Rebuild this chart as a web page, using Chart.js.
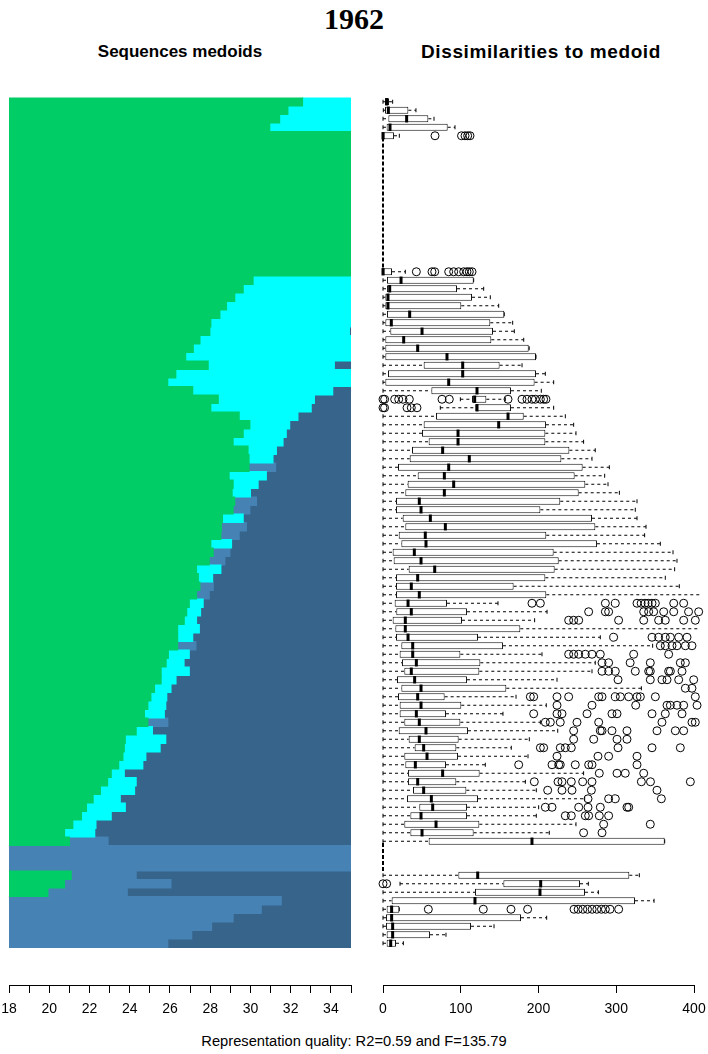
<!DOCTYPE html>
<html>
<head>
<meta charset="utf-8">
<script src="https://cdn.jsdelivr.net/npm/chart.js@4.4.1/dist/chart.umd.min.js"></script>
<style>
  body { margin: 0; background: #fff; width: 708px; height: 1054px; position: relative; overflow: hidden;
         font-family: 'Liberation Sans', Arial, sans-serif; color: #000; }
  .txt { position: absolute; white-space: nowrap; transform: translateX(-50%); line-height: 1; }
  #title { left: 354px; top: 4px; font-family: 'Liberation Serif', serif; font-weight: bold; font-size: 30px; }
  #hLeft { left: 180px; top: 43px; font-weight: bold; font-size: 17px; }
  #hRight { left: 541px; top: 42px; font-weight: bold; font-size: 19px; letter-spacing: 0.6px; }
  #caption { left: 354px; top: 1034px; font-size: 14.7px; }
  .box { position: absolute; top: 0; height: 1030px; }
</style>
</head>
<body>
<div id="title" class="txt">1962</div>
<div id="hLeft" class="txt">Sequences medoids</div>
<div id="hRight" class="txt">Dissimilarities to medoid</div>
<div class="box" style="left:0;width:360px"><canvas id="seq_chart"></canvas></div>
<div class="box" style="left:360px;width:348px"><canvas id="diss_chart"></canvas></div>
<div id="caption" class="txt">Representation quality: R2=0.59 and F=135.79</div>

<script>
// one entry per medoid, top to bottom (84 medoids, 100 rows)
// weight = number of rows the medoid takes
var weights = [
  1,1,1,1,1,15,1,1,1,1,
  1,1,1,1,1,1,1,1,1,1,
  1,1,1,1,1,1,1,1,1,1,
  1,1,1,1,1,1,1,1,1,1,
  1,1,1,1,1,1,1,1,1,1,
  1,1,1,1,1,1,1,1,1,1,
  1,1,1,1,1,1,1,1,1,1,
  1,1,1,1,3,1,1,1,1,1,
  1,1,1,1];

// age where each state ends (always green -> cyan -> steel blue -> dark blue)
var greenEnd = [
  32.59,31.86,31.45,30.96,35,35,35,30.13,29.64,29.22,
  28.81,28.48,28.03,27.98,27.49,27.16,26.78,27.90,26.29,25.89,
  27.13,28.40,28.03,29.44,29.97,29.64,29.14,29.88,29.93,29.93,
  28.94,29.14,29.09,29.22,29.14,28.61,28.56,28.53,28.03,28.15,
  27.95,27.32,27.41,27.49,27.32,26.96,26.83,26.71,26.38,26.38,
  26.38,25.92,25.81,25.56,25.56,25.23,25.05,24.90,24.73,24.90,
  24.32,23.78,23.73,23.66,23.45,23.08,22.90,22.54,22.18,21.85,
  21.60,21.17,20.76,21.00,18,21.09,20.76,19.93,18,18,
  18,18,18,18];
var cyanEnd = [
  35,35,35,35,35,35,35,35,35,35,
  35,35,35,34.92,35,35,35,34.17,35,35,
  34.09,33.18,33.02,32.36,31.95,31.78,31.62,31.29,31.12,29.93,
  30.79,30.38,30.00,29.22,29.14,29.64,28.56,28.53,29.06,28.15,
  27.95,28.53,28.12,27.49,27.32,27.65,27.52,27.32,27.46,27.13,
  26.38,26.96,26.70,26.96,26.30,26.05,25.84,25.79,25.72,24.90,
  25.13,25.79,25.51,24.80,24.65,23.73,24.32,24.24,23.53,23.78,
  23.08,22.32,22.26,21.00,18,21.09,20.76,19.93,18,18,
  18,18,18,18];
var steelEnd = [
  35,35,35,35,35,35,35,35,35,35,
  35,35,35,34.92,35,35,35,34.17,35,35,
  34.09,33.18,33.02,32.36,31.95,31.78,31.62,31.29,31.12,31.25,
  30.79,30.38,30.00,30.30,29.97,29.64,29.80,29.44,29.06,28.98,
  28.73,28.53,28.12,28.15,27.95,27.65,27.52,27.32,27.46,27.13,
  27.29,26.96,26.70,26.96,26.30,26.05,25.84,25.79,25.72,25.89,
  25.13,25.79,25.51,24.80,24.65,23.73,24.32,24.24,23.53,23.78,
  23.08,22.32,22.26,22.92,35,24.32,26.05,23.88,31.53,30.54,
  29.14,28.07,27.08,25.89];

// boxplot stats of the dissimilarities to each medoid
var whiskLo = [
  0,0.4,0,0,0,0,0,0,0,0,
  0,0,0,0,0,0,0,0,0,0,
  0,99.5,73.7,0,0,0,0,0,0,0,
  0,0,0,0,0,0,0,0,0,0,
  0,0,0,0,0,0,0,0,0,0,
  0,0,0,0,0,0,0,0,0,0,
  0,0,0,0,0,0,0,0,0,0,
  0,0,0,0,0,0,21.9,0,0,0,
  0,0,0,0];
var q1 = [
  2.6,2.6,6.9,4.7,0,0,0,5.1,5.1,3,
  3,5.1,3,9.4,3,3,3,52.3,6.4,3,
  62.2,114.5,118.8,68.2,52.3,50.2,58.7,37.3,34.3,19.3,
  44.6,31.7,28.7,16.7,16.7,25.3,28.7,20.2,23.6,12.4,
  13.7,33,16.7,16.7,16.7,15,17.1,12.4,15.9,16.7,
  23.6,21.4,24.4,27.4,18,23.6,19.3,21.4,21.4,27.4,
  20.2,33,40.7,27.4,28.7,32.2,32.2,38.6,30.9,46.7,
  35.2,27.4,35.2,58.7,0,96.9,154.8,118.3,11.1,4.7,
  3.9,3.9,4.7,4.7];
var median = [
  4.7,6.9,30.4,9,0,0,0,23.2,8.6,6.4,
  6.4,34.3,10.7,50.2,26.6,44.6,82.3,102.5,102.5,84.5,
  120.9,117.9,120.9,160.8,148.8,96.5,96.5,76.7,111,84.5,
  78.9,90.9,78.9,46.7,48.9,60.9,80.2,54.4,55.3,40.3,
  48.9,66.5,44.6,36.4,46.7,32.2,36.4,28.7,28.7,32.2,
  38.2,38.2,42.9,36.4,40.7,48.9,44.6,48.9,42.9,46.7,
  55.3,46.7,52.3,56.6,41.6,76.7,44.6,52.3,62.2,63.9,
  48.9,68.2,50.2,191.6,0,121.8,202.8,201.9,118.3,11.1,
  11.1,12.4,12.4,9.9];
var q3 = [
  7.7,32.6,58.3,83.2,14.1,0,11.6,116.6,95.2,114.5,
  100.7,156,138,141.5,139.3,187.4,196.8,150,196.8,195,
  164.6,132.9,164.6,181,209.6,208.8,208.8,239.7,229.4,256.8,
  246.5,260.2,251.7,228,202.4,268.8,273.1,210,275.2,219.5,
  226,220.8,208.8,168,210,82.3,108,101.6,176.6,122.2,
  154.3,99.5,125.2,123.9,108,158.6,79.3,100.7,81,99.5,
  109.3,97.3,94.3,96.5,81,124.3,94.3,107.2,122.2,108,
  108,123.9,116.6,362.3,0,316.8,253.4,259.8,324.1,21,
  177.5,113.2,60.5,16.7];
var whiskHi = [
  12.4,42.4,65.6,92.6,21,0,28.7,116.6,129.5,138,
  148.8,156,166.8,168.9,181,188,196.8,178.8,208.8,219.5,
  203.6,157.3,219.5,234.5,245.2,248.2,258,273,268.8,291.1,
  285.1,289.4,304,326.7,324.5,326.7,338.3,336.5,356.7,373,
  378.1,375.1,363.1,381.1,408,147.9,211,195,408,279.5,
  346.8,204.5,273,268.8,223.8,332.3,171.1,210,154.3,202.4,
  224.7,188.2,165,186.5,131.6,258,183.1,197.2,259.4,200.2,
  197.2,248.2,213.9,362.3,0,329.7,264.1,277,348.6,21,
  210.5,142.8,81,26.2];
// outliers, keyed by medoid index
var outliers = {
  4: [66.9,101,105.5,108.9,111.9],
  6: [42.9,63,66.5,84.5,90.9,97.3,103.8,108,111,114.5],
  21: [0,2.1,15,20.2,25.7,33.9,75.9,85.3,160.8,178.8,185.2,191.6,195.9,202.4,206.6,209.6],
  22: [0,2,30.9,36.4,43.7],
  43: [408],
  45: [191.6,202.4,286,298.8,326.7,332,337,341,346,350.3,373.9,386.7],
  46: [264.5,286,290.2,335.3,341.7,348.1,361,373.9,393,406],
  47: [238.8,245.2,251.7,303,335.3,354.5,363.1,386.7,401.7],
  49: [296.7,346,354.5,363.1,369.6,380.3,391],
  50: [356.7,363.1,371.7,378.1,388.9,397.4],
  51: [238.8,245.2,251.7,260.2,268.8,279.5,322.4,367.4,408],
  52: [281.7,290.2,317.9,343.8,382.4,388.9],
  53: [281.7,290.2,298.8,324.5,341.7,343.8,367.4,369.6,384.6],
  54: [302.3,343.8,358.8,365.3,380.3,399.6],
  55: [388.9,397.4,408],
  56: [189.5,193.8,223.8,238.8,277.4,281.7,298.8,305.3,316,326.7,331,350.3,401.7],
  57: [223.8,268.8,325,365.3,369.6,378.1,386.7,403.9,408],
  58: [193.8,223.8,230.2,262.4,294.5,301,346,363.1,384.6],
  59: [208.8,215.2,228,249.5,277.4,358.8,397.4,401.7,408],
  60: [245.2,279.5,281.7,294.5,313.8,352.4,376,386.7,408],
  61: [245.2,271,301,313.8,408],
  62: [202.4,206.6,228,234.5,242.2,302.3,346,382.4],
  63: [223.8,276.5,290.2,326.7],
  64: [174.5,217.4,226,228,247.3,264.5,268.8,326.7],
  65: [278.2,301,311.6,335.3],
  66: [194.6,225.1,230.2,242.2,256.8,268.8,332.3,344,395.3],
  67: [211.8,230.2,243.1,268,352.4],
  68: [263.7,290.2,298.8,358],
  69: [208.8,217.4,251.7,263.7,279.5,313.8,316],
  70: [234.5,242.2,260.2,264.5,278.2,290.2],
  71: [283.8,343.8],
  72: [258,281.7],
  76: [0,4.7],
  79: [58.3,129,164.6,186,245.7,251,257,263,269,275,281,286,292,303.1]
};

var stateColors = { green: '#00CD66', cyan: '#00FFFF', steel: '#4682B4', dark: '#36648B' };
var yMax = 0.5 + (985 - 97.5) / 8.5;   // empty band between last row and the axis line

// first row of each medoid
var startRow = [];
var rr = 1;
for (var i = 0; i < weights.length; i++) { startRow.push(rr); rr += weights[i]; }

// ---- left: medoid sequences ----
var segGreen = [], segCyan = [], segSteel = [], segDark = [];
for (var m = 0; m < weights.length; m++) {
  for (var k = 0; k < weights[m]; k++) {
    var row = startRow[m] + k;
    if (greenEnd[m] > 18) segGreen.push({ y: row, x: [18, greenEnd[m]] });
    if (cyanEnd[m] > greenEnd[m]) segCyan.push({ y: row, x: [greenEnd[m], cyanEnd[m]] });
    if (steelEnd[m] > cyanEnd[m]) segSteel.push({ y: row, x: [cyanEnd[m], steelEnd[m]] });
    if (steelEnd[m] < 35) segDark.push({ y: row, x: [steelEnd[m], 35] });
  }
}

function seqSet(data, color) {
  return { data: data, backgroundColor: color, borderWidth: 0, borderSkipped: false, inflateAmount: 0.6,
           grouped: false, categoryPercentage: 1, barPercentage: 1 };
}

var axisFont = { family: "'Liberation Sans', Arial, sans-serif", size: 14 };

function bottomAxis(min, max, step, cb) {
  return {
    type: 'linear', min: min, max: max, offset: false,
    afterFit: function (s) { s.height = 45; s.paddingLeft = 0; s.paddingRight = 0; },
    border: { display: true, color: '#000', width: 1 },
    grid: { drawOnChartArea: false, drawTicks: true, tickLength: 8, color: '#000' },
    ticks: { stepSize: step, autoSkip: false, maxRotation: 0, padding: 8, color: '#000', font: axisFont, callback: cb }
  };
}
var rowAxis = { type: 'linear', reverse: true, min: 0.5, max: yMax, offset: false, display: false, ticks: { stepSize: 20 } };

var seq_chart = new Chart(document.getElementById('seq_chart'), {
  type: 'bar',
  data: { datasets: [seqSet(segGreen, stateColors.green), seqSet(segCyan, stateColors.cyan),
                     seqSet(segSteel, stateColors.steel), seqSet(segDark, stateColors.dark)] },
  options: {
    indexAxis: 'y',
    responsive: true, maintainAspectRatio: false, animation: false, events: [],
    layout: { padding: { left: 9, right: 9, top: 97.5, bottom: 0 } },
    plugins: { legend: { display: false }, tooltip: { enabled: false } },
    scales: {
      y: rowAxis,
      x: bottomAxis(18, 35, 1, function (v) { return (v % 2 === 0 && v < 35) ? v : ''; })
    }
  }
});

// ---- right: dissimilarity boxplots ----
var boxData = [], medData = [], stapleData = [], outData = [], whiskData = [], zeroData = [];
for (var m = 0; m < weights.length; m++) {
  var pos = startRow[m] + (weights[m] - 1) / 2;
  if (whiskHi[m] === 0 && q3[m] === 0) {
    // every sequence equals the medoid: just a dashed line at 0
    zeroData.push({ x: 0, y: startRow[m] - 0.8 }, { x: 0, y: startRow[m] + weights[m] - 0.5 }, { x: NaN, y: pos });
    continue;
  }
  boxData.push({ y: pos, x: [q1[m], q3[m]] });
  medData.push({ y: pos, x: median[m] });
  stapleData.push({ y: pos, x: whiskLo[m] }, { y: pos, x: whiskHi[m] });
  whiskData.push({ y: pos, x: whiskLo[m] }, { y: pos, x: q1[m] }, { y: pos, x: NaN },
                 { y: pos, x: q3[m] }, { y: pos, x: whiskHi[m] }, { y: pos, x: NaN });
  (outliers[m] || []).forEach(function (v) { outData.push({ y: pos, x: v }); });
}

var diss_chart = new Chart(document.getElementById('diss_chart'), {
  type: 'bar',
  data: {
    datasets: [
      { type: 'scatter', data: medData, order: 0, clip: false, pointStyle: 'line', rotation: 90,
        radius: 3.7, borderWidth: 3, borderColor: '#000' },
      { type: 'scatter', data: stapleData, order: 1, clip: false, pointStyle: 'line', rotation: 90,
        radius: 2, borderWidth: 1, borderColor: '#000' },
      { type: 'scatter', data: outData, order: 2, clip: false, pointStyle: 'circle',
        radius: 4, borderWidth: 1, borderColor: '#000', backgroundColor: 'rgba(0,0,0,0)' },
      { data: boxData, order: 3, backgroundColor: '#fff', borderColor: '#111', borderWidth: 1,
        borderSkipped: false, categoryPercentage: 1, barPercentage: 0.8 },
      { type: 'line', data: whiskData, order: 4, clip: false, borderColor: '#000', borderWidth: 1,
        borderDash: [3, 3], pointRadius: 0, spanGaps: false },
      { type: 'line', data: zeroData, order: 5, clip: false, borderColor: '#000', borderWidth: 2,
        borderDash: [4, 2], pointRadius: 0, spanGaps: false }
    ]
  },
  options: {
    indexAxis: 'y',
    responsive: true, maintainAspectRatio: false, animation: false, events: [],
    layout: { padding: { left: 23, right: 14, top: 97.5, bottom: 0 } },
    plugins: { legend: { display: false }, tooltip: { enabled: false } },
    scales: {
      y: rowAxis,
      x: bottomAxis(0, 400, 100)
    }
  }
});
</script>
</body>
</html>
